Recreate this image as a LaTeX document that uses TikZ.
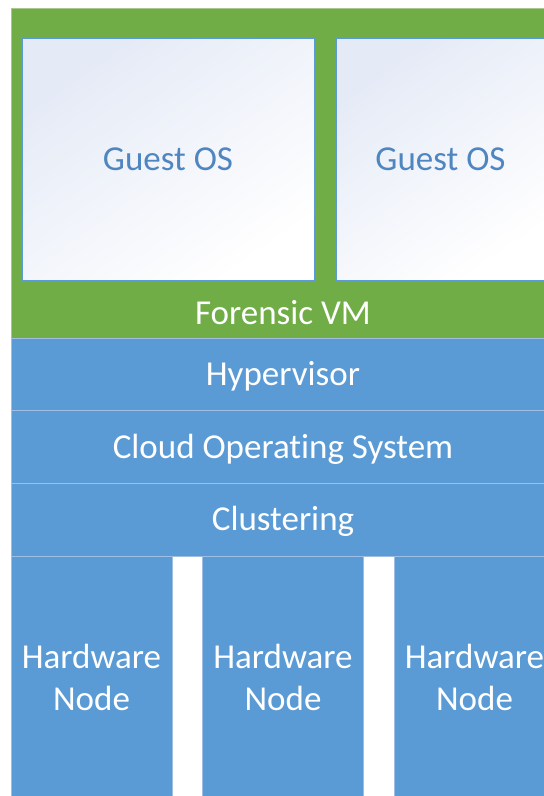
\documentclass[tikz,border=0pt]{standalone}
\usepackage{fontspec}
\setmainfont[Ligatures=NoCommon]{Carlito}

\definecolor{vmgreen}{HTML}{70AD47}
\definecolor{vmline}{HTML}{A8C890}
\definecolor{layerblue}{HTML}{5B9BD5}
\definecolor{layerline}{HTML}{9EBEE3}
\definecolor{guestline}{HTML}{5B9BD5}
\definecolor{guesttext}{HTML}{4F86C0}
\definecolor{guesttop}{HTML}{E4EAF6}

\begin{document}
\begin{tikzpicture}[x=1pt,y=-1pt,
    bigfont/.style={font=\fontsize{35}{42}\selectfont},
    box/.style={anchor=north west,inner sep=0pt,outer sep=0pt},
    vmbox/.style={box,fill=vmgreen,draw=vmline,line width=0.8pt},
    guestbox/.style={box,draw=guestline,line width=1pt,top color=guesttop,bottom color=white,shading angle=35,text=guesttext,bigfont},
    layer/.style={box,fill=layerblue,draw=layerline,line width=0.8pt,text=white,bigfont},
    hwnode/.style={layer,align=center}]

    \useasboundingbox (0,0) rectangle (544,796);
    \clip (0,0) rectangle (544,796);

    % forensic vm
    \node[vmbox,minimum width=544pt,minimum height=330pt] (vm) at (11,8) {};
    \node[text=white,bigfont] (vmlabel) at (283,312.5) {Forensic VM};

    \node[guestbox,minimum width=292pt,minimum height=242pt] (guest1) at (22,38) {Guest OS};
    \node[guestbox,minimum width=209pt,minimum height=242pt] (guest2) at (336,38) {Guest OS};

    % cloud layers
    \foreach \name/\y/\txt in {hyp/338/Hypervisor,cos/410.7/Cloud Operating System,clu/483.3/Clustering}{
        \node[layer,text height=22pt,text depth=0pt,minimum width=544pt,minimum height=72.7pt] (\name) at (11,\y) {\txt};
    }

    \foreach \i/\x in {1/11,2/202.5,3/394}{
        \node[hwnode,minimum width=161pt,minimum height=242pt] (hw\i) at (\x,556) {Hardware\\Node};
    }
\end{tikzpicture}
\end{document}
